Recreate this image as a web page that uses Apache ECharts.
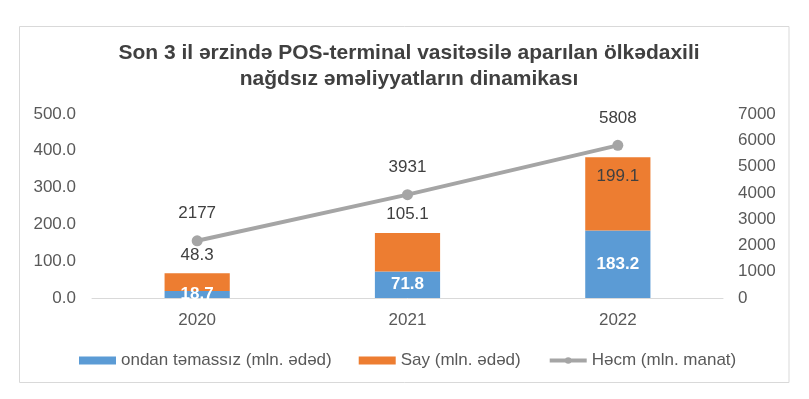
<!DOCTYPE html>
<html>
<head>
<meta charset="utf-8">
<script src="https://cdn.jsdelivr.net/npm/echarts@6/dist/echarts.min.js"></script>
<style>
  html, body { margin: 0; padding: 0; background: #fff; }
  #chart { width: 809px; height: 399px; }
</style>
</head>
<body>
<div id="chart"></div>
<script>
// data
const years = ['2020', '2021', '2022']
const contactless = [18.7, 71.8, 183.2]   // ondan təmassız (mln. ədəd)
const countVals = [48.3, 105.1, 199.1]     // Say (mln. ədəd)
const volume = [2177, 3931, 5808]          // Həcm (mln. manat)

const chart = echarts.init(document.getElementById('chart'))
const font = '"Liberation Sans", Arial, sans-serif'

// orange labels: above the bar unless the bar is tall enough
const countData = countVals.map((v, i) => ({
    value: v,
    label: { position: contactless[i] + v > 300 ? 'insideTop' : 'top', distance: 10 }
}))

const option = {
    animation: false,
    textStyle: { fontFamily: font },
    graphic: [{
        type: 'rect',
        shape: { x: 19.5, y: 26.5, width: 769.5, height: 356 },
        style: { fill: 'none', stroke: '#d9d9d9', lineWidth: 1 },
        silent: true
    }],
    title: {
        text: 'Son 3 il ərzində POS-terminal vasitəsilə aparılan ölkədaxili\nnağdsız əməliyyatların dinamikası',
        left: 404,
        top: 35,
        textAlign: 'center',
        textStyle: { fontFamily: font, fontSize: 21, fontWeight: 'bold', color: '#404040', lineHeight: 26 }
    },
    legend: {
        left: 74,
        top: 347,
        itemWidth: 37,
        itemHeight: 8,
        itemGap: 27,
        textStyle: { fontFamily: font, fontSize: 17, color: '#595959' },
        data: [
            { name: 'ondan təmassız (mln. ədəd)', icon: 'rect' },
            { name: 'Say (mln. ədəd)', icon: 'rect' },
            { name: 'Həcm (mln. manat)', lineStyle: { width: 4, color: '#a5a5a5' } }
        ]
    },
    grid: { left: 92, right: 86, top: 114, bottom: 101 },
    xAxis: {
        type: 'category',
        data: years,
        axisTick: { show: false },
        axisLine: { lineStyle: { color: '#d9d9d9', width: 1 } },
        axisLabel: { fontSize: 17, color: '#595959', margin: 14, fontFamily: font }
    },
    yAxis: [
        {
            type: 'value', min: 0, max: 500, interval: 100,
            splitLine: { show: false },
            axisLine: { show: false },
            axisLabel: { fontSize: 17, color: '#595959', margin: 16, fontFamily: font, formatter: v => v.toFixed(1) }
        },
        {
            type: 'value', min: 0, max: 7000, interval: 1000,
            splitLine: { show: false },
            axisLine: { show: false },
            axisLabel: { fontSize: 17, color: '#595959', margin: 15, fontFamily: font, formatter: v => String(v) }
        }
    ],
    series: [
        {
            name: 'ondan təmassız (mln. ədəd)',
            type: 'bar',
            stack: 'total',
            barWidth: '31%',
            itemStyle: { color: '#5b9bd5' },
            label: { show: true, position: 'inside', color: '#fff', fontWeight: 'bold', fontSize: 17, fontFamily: font },
            data: contactless
        },
        {
            name: 'Say (mln. ədəd)',
            type: 'bar',
            stack: 'total',
            itemStyle: { color: '#ed7d31' },
            label: { show: true, color: '#404040', fontSize: 17, fontFamily: font },
            data: countData
        },
        {
            name: 'Həcm (mln. manat)',
            type: 'line',
            yAxisIndex: 1,
            symbol: 'circle',
            symbolSize: 11,
            lineStyle: { color: '#a5a5a5', width: 4 },
            itemStyle: { color: '#a5a5a5' },
            label: { show: true, position: 'top', distance: 13, color: '#404040', fontSize: 17, fontFamily: font },
            data: volume
        }
    ]
}

chart.setOption(option)
</script>
</body>
</html>
